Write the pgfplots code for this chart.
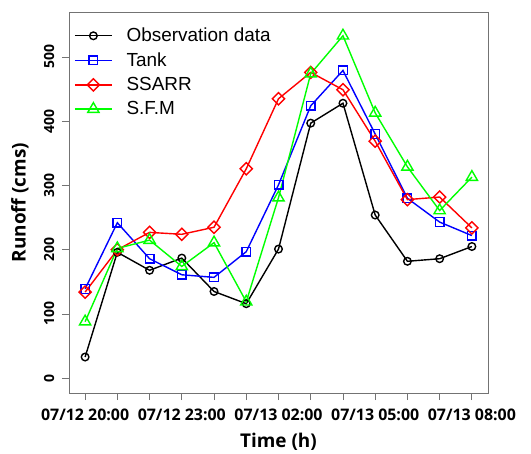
\documentclass[border=0pt]{standalone}
\usepackage{fontspec}
\usepackage{pgfplots}
\pgfplotsset{compat=1.18}
\setmainfont{Liberation Sans}
\newfontfamily\labelfont{Open Sans}

% hourly runoff series, 07/12 20:00 to 07/13 08:00 (index 0..12)
\pgfplotstableread{
h obs tank ssarr sfm
0  33  139 134 88
1  196 242 200 202
2  168 186 227 215
3  187 161 224 174
4  135 157 235 211
5  116 197 326 119
6  201 301 435 281
7  397 424 476 474
8  428 479 449 533
9  254 380 369 413
10 182 280 278 329
11 186 243 282 261
12 205 222 234 313
}\runoff

\begin{document}
\begin{tikzpicture}
\useasboundingbox (-69bp,-61bp) rectangle (462bp,393bp);
\begin{axis}[
  scale only axis,
  width=419bp, height=381bp,
  xmin=-0.5, xmax=12.5,
  ymin=-23, ymax=570,
  axis line style={draw=black!55, line width=0.8bp},
  tick style={draw=black!55, line width=0.8bp},
  tick align=outside,
  major tick length=7bp,
  xtick pos=bottom, ytick pos=left,
  xtick={0,...,12},
  xticklabels={07/12 20:00,,,07/12 23:00,,,07/13 02:00,,,07/13 05:00,,,07/13 08:00},
  ytick={0,100,...,500},
  /pgf/number format/assume math mode=true,
  xticklabel style={font=\labelfont\bfseries\fontsize{16}{17}\selectfont, yshift=-5bp},
  yticklabel style={font=\labelfont\bfseries\fontsize{14}{15}\selectfont, rotate=90, anchor=south,
    inner ysep=7.5bp},
  xlabel={Time (h)},
  ylabel={Runoff (cms)},
  every axis x label/.style={at={(axis description cs:0.5,-0.128)}, anchor=center,
    font=\labelfont\bfseries\fontsize{19}{20}\selectfont},
  every axis y label/.style={at={(axis description cs:-0.117,0.5)}, anchor=center, rotate=90,
    font=\labelfont\bfseries\fontsize{19}{20}\selectfont},
  legend style={at={(axis description cs:0,1)}, anchor=north west,
    draw=none, fill=none, font=\fontsize{19}{22}\selectfont,
    row sep=5.5bp, xshift=2bp, yshift=-12bp},
  legend cell align=left,
  legend image code/.code={%
    \draw[mark repeat=2, mark phase=2, #1]
      plot coordinates {(0bp,0bp) (18.5bp,0bp) (37bp,0bp)};
    \path (49bp,0bp);},
  every axis plot/.append style={line width=1.4bp, mark options={solid, fill=none}},
]
\addplot[black, mark=o, mark size=3.8bp] table[x=h, y=obs] {\runoff};
\addlegendentry{Observation data}
\addplot[blue, mark=square, mark size=4.3bp] table[x=h, y=tank] {\runoff};
\addlegendentry{Tank}
\addplot[red, mark=square, mark size=4.3bp, mark options={rotate=45}] table[x=h, y=ssarr] {\runoff};
\addlegendentry{SSARR}
\addplot[green, mark=triangle, mark size=6.5bp] table[x=h, y=sfm] {\runoff};
\addlegendentry{S.F.M}
\end{axis}
\end{tikzpicture}
\end{document}
